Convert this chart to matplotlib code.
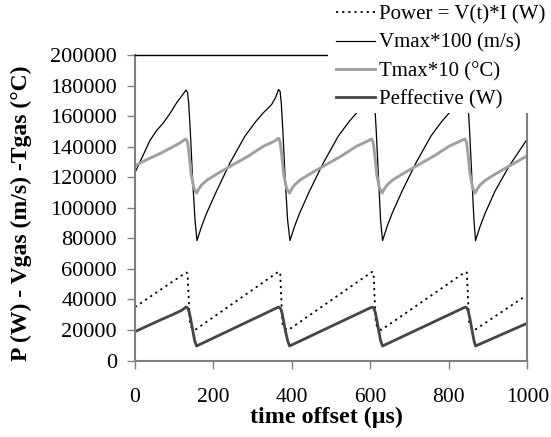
import matplotlib
matplotlib.use("Agg")
import matplotlib.pyplot as plt
from matplotlib.patches import Rectangle

# ---------------- data ----------------
t_power = [0, 130, 134, 137, 140, 145, 153,
           366, 370, 373, 376, 382, 391,
           604, 608, 611, 614, 620, 628,
           842, 846, 849, 852, 858, 866, 1000]
power = [35000, 57600, 57000, 40000, 24000, 21000, 20000,
         58200, 57500, 40000, 24000, 21000, 20000,
         58000, 57500, 40000, 24000, 21000, 20000,
         58000, 57500, 40000, 24000, 21000, 20000, 43000]

t_vmax = [0, 20, 38, 55, 72, 90, 106, 120, 130, 134, 137, 141, 147, 153, 158,
          163, 170, 183, 208, 242, 280, 308, 327, 348, 358, 366, 370, 373, 377, 383, 389, 395,
          400, 407, 420, 445, 480, 518, 546, 565, 586, 596, 604, 608, 611, 615, 621, 626, 631,
          636, 643, 656, 681, 716, 754, 782, 801, 822, 832, 842, 846, 849, 853, 859, 864, 868,
          873, 880, 893, 918, 953, 1000]
vmax = [123000, 134000, 144000, 150500, 155500, 162000, 168700, 173500, 177000, 175500, 168000, 150000, 118000, 92000, 78500,
        82500, 88000, 96700, 111000, 129300, 146800, 156500, 162100, 167500, 172000, 177400, 176000, 168000, 150000, 118000, 92000, 78500,
        82500, 88000, 96700, 111000, 129300, 146800, 156500, 162100, 167500, 172000, 177000, 175500, 168000, 150000, 118000, 92000, 78500,
        82500, 88000, 96700, 111000, 129300, 146800, 156500, 162100, 167500, 172000, 177000, 175500, 168000, 150000, 118000, 92000, 78500,
        82500, 88000, 96700, 111000, 127000, 145000]

t_tmax = [0, 30, 60, 90, 115, 126, 130, 134, 138, 143, 150, 157,
          163, 170, 183, 208, 250, 290, 327, 355, 366, 370, 374, 379, 386, 394,
          400, 407, 420, 445, 487, 527, 564, 592, 603, 607, 611, 616, 623, 630,
          636, 643, 656, 681, 723, 763, 800, 828, 841, 845, 849, 854, 861, 867,
          873, 880, 893, 918, 960, 1000]
tmax = [127500, 131500, 135000, 139000, 142500, 144500, 145000, 143000, 135000, 122000, 113000, 109600,
        112500, 115000, 118000, 122000, 128200, 134000, 140200, 143500, 145500, 143000, 135000, 122000, 113000, 109600,
        112500, 115000, 118000, 122000, 128200, 134000, 140200, 143500, 145000, 143000, 135000, 122000, 113000, 109600,
        112500, 115000, 118000, 122000, 128200, 134000, 140200, 143500, 145000, 143000, 135000, 122000, 113000, 109600,
        112500, 115000, 118000, 122000, 128200, 134000]

t_peff = [0, 60, 100, 120, 130, 134, 138, 142, 147, 152, 157,
          366, 370, 374, 378, 383, 389, 394,
          604, 608, 612, 616, 621, 626, 631,
          842, 846, 850, 854, 859, 864, 868, 1000]
peff = [18900, 26000, 30500, 33000, 35000, 34500, 32000, 27000, 20000, 13000, 9500,
        35000, 34500, 32000, 27000, 20000, 13000, 9500,
        35000, 34500, 32000, 27000, 20000, 13000, 9500,
        35000, 34500, 32000, 27000, 20000, 13000, 9500, 24400]

labels = ["Power = V(t)*I (W)", "Vmax*100 (m/s)", "Tmax*10 (\u00b0C)", "Peffective (W)"]
x_ticks = [0, 200, 400, 600, 800, 1000]
y_ticks = [0, 20000, 40000, 60000, 80000, 100000, 120000, 140000, 160000, 180000, 200000]

# ---------------- figure ----------------
plt.rcParams['font.family'] = ['Liberation Serif', 'DejaVu Serif']
fig = plt.figure(figsize=(5.51, 4.37), dpi=100)
W, H = 551, 437
ax = fig.add_axes([135 / W, 1 - 360.5 / H, (527.3 - 135) / W, (360.5 - 55) / H])

l1, = ax.plot(t_power, power, color='black', lw=1.3, ls=(0, (1.2, 2.2)))
l2, = ax.plot(t_vmax, vmax, color='black', lw=0.9)
l3, = ax.plot(t_tmax, tmax, color='#a0a0a0', lw=2.1)
l4, = ax.plot(t_peff, peff, color='#454545', lw=2.0)

ax.set_xlim(0, 1000)
ax.set_ylim(0, 200000)
ax.set_xticks(x_ticks)
ax.set_yticks(y_ticks)
ax.set_xticklabels([str(v) for v in x_ticks])
ax.set_yticklabels([str(v) for v in y_ticks])
ax.tick_params(axis='both', direction='out', length=6, width=1, color='#808080')
ax.tick_params(axis='y', pad=7, labelsize=16)
ax.tick_params(axis='x', pad=14, labelsize=15.5)

for s in ['left', 'bottom', 'right']:
    ax.spines[s].set_color('#808080')
    ax.spines[s].set_linewidth(1.5)
ax.spines['top'].set_color('black')
ax.spines['top'].set_linewidth(1.0)

ax.set_xlabel("time offset (\u00b5s)", fontsize=17.3, fontweight='bold')
ax.set_ylabel("P (W) - Vgas (m/s) -Tgas (\u00b0C)", fontsize=17, fontweight='bold')
ax.xaxis.set_label_coords(0.487, -0.152)
ax.yaxis.set_label_coords(-0.262, 0.481)

# white legend area covering the top-right corner
fig.patches.append(Rectangle((328 / W, 1 - 113 / H), 1 - 328 / W, 113 / H,
                             transform=fig.transFigure, facecolor='white',
                             edgecolor='none', zorder=3))
leg = fig.legend([l1, l2, l3, l4], labels, loc='upper left',
                 bbox_to_anchor=(336 / W, 1 - 5 / H), frameon=False,
                 fontsize=15, handlelength=1.85, handletextpad=0.2,
                 labelspacing=0.42, borderpad=0, borderaxespad=0)
leg.set_zorder(4)

fig.savefig("out.png", dpi=100)
